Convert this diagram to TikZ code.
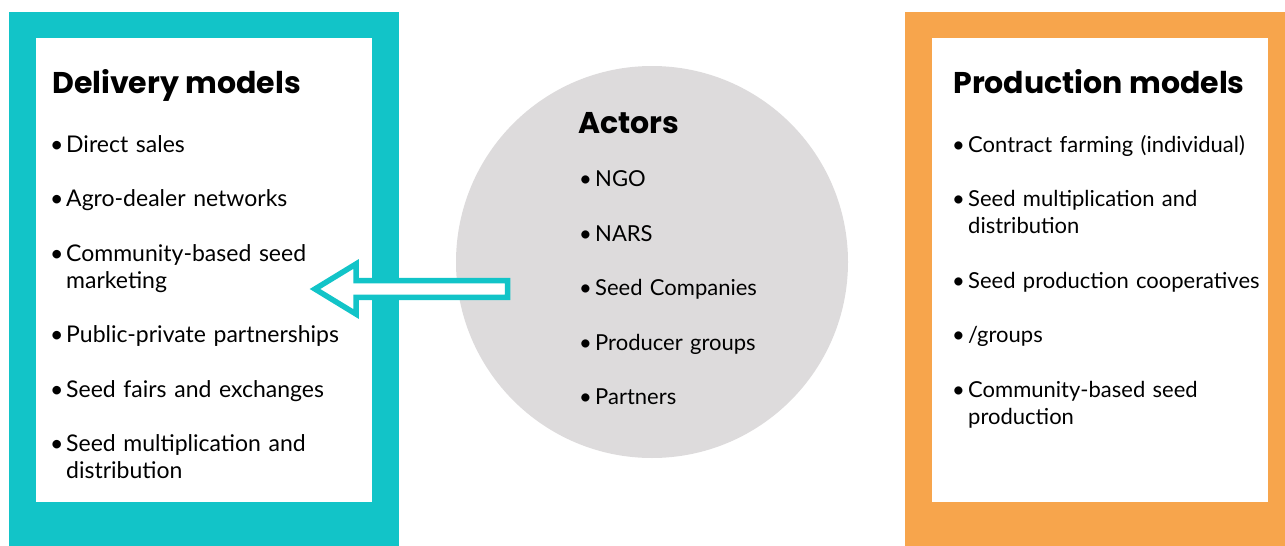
\documentclass[tikz,border=0pt]{standalone}
\usepackage{fontspec}
\setmainfont{Lato}
\newfontfamily\headfont{Poppins}
\usetikzlibrary{positioning, calc}
\definecolor{deliverycolor}{RGB}{18,196,200}
\definecolor{productioncolor}{RGB}{247,165,76}
\definecolor{actorcolor}{RGB}{221,219,220}
\newcommand{\bul}{\noindent\hangindent=16pt\hangafter=1\makebox[16pt][l]{\textbullet}}
\tikzset{
  panel/.style={fill=#1, minimum width=390, minimum height=560,
                anchor=north west, inner sep=0pt},
  panelbody/.style={fill=white, minimum width=336, minimum height=464,
                    anchor=north west, inner sep=0pt},
  heading/.style={font=\headfont\fontsize{30}{36}\selectfont\bfseries,
                  anchor=base west, inner sep=0pt},
  itemlist/.style={font=\fontsize{23}{27}\selectfont, text width=340pt,
                   align=left, anchor=base west, inner sep=0pt,
                   execute at begin node={\setlength{\parskip}{27.5pt}}},
  blockarrow/.style={draw=deliverycolor, line width=5.5pt, fill=white,
                     line join=miter},
}

\begin{document}
\begin{tikzpicture}[x=1pt, y=-1pt]

  \useasboundingbox (0,0) rectangle (1285,546);

  % --- Delivery panel ---
  \node[panel=deliverycolor] (delivery) at (9,12) {};
  \node[panelbody] (deliverybody) at (36,38) {};
  \node[heading] (deliveryhead) at (52,93) {Delivery models};
  \node[itemlist] (deliverylist) at (50,152)
    {\bul Direct sales\par
     \bul Agro-dealer networks\par
     \bul Community-based seed\newline marketing\par
     \bul Public-private partnerships\par
     \bul Seed fairs and exchanges\par
     \bul Seed multiplication and\newline distribution\par};

  % --- Production panel ---
  \node[panel=productioncolor] (production) at (905,12) {};
  \node[panelbody] (productionbody) at (932,38) {};
  \node[heading, anchor=base] (productionhead) at (1099,93) {Production models};
  \node[itemlist, font=\fontsize{22}{27}\selectfont] (productionlist) at (952,152)
    {\bul Contract farming (individual)\par
     \bul Seed multiplication and\newline distribution\par
     \bul Seed production cooperatives\par
     \bul /groups\par
     \bul Community-based seed\newline production\par};

  % --- Actors ---
  \node[circle, fill=actorcolor, minimum size=392, inner sep=0pt]
    (actors) at (652,262) {};
  \node[heading] (actorshead) at (578,133) {Actors};
  \node[itemlist, font=\fontsize{22}{27}\selectfont] (actorlist) at (579,186.5)
    {\bul NGO\par
     \bul NARS\par
     \bul Seed Companies\par
     \bul Producer groups\par
     \bul Partners\par};

  % --- Block arrow ---
  \coordinate (tip) at (315,289);
  \coordinate (tail) at (507.5,289);
  \draw[blockarrow] (tip) -- ($(tip)+(41,-25)$) -- ($(tip)+(41,-8.3)$)
    -- ($(tail)+(0,-8.3)$) -- ($(tail)+(0,8.3)$) -- ($(tip)+(41,8.3)$)
    -- ($(tip)+(41,25)$) -- cycle;

\end{tikzpicture}
\end{document}
